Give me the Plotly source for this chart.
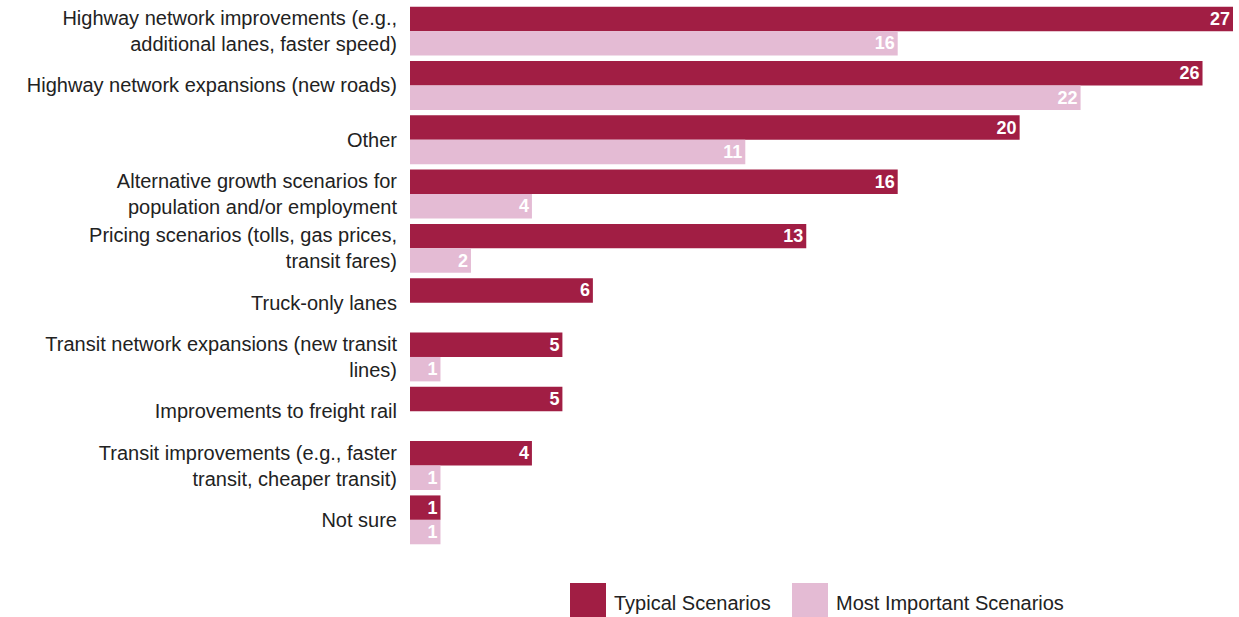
import plotly.graph_objects as go

categories = [
    "Highway network improvements (e.g.,<br>additional lanes, faster speed)",
    "Highway network expansions (new roads)",
    "Other",
    "Alternative growth scenarios for<br>population and/or employment",
    "Pricing scenarios (tolls, gas prices,<br>transit fares)",
    "Truck-only lanes",
    "Transit network expansions (new transit<br>lines)",
    "Improvements to freight rail",
    "Transit improvements (e.g., faster<br>transit, cheaper transit)",
    "Not sure",
]
typical = [27, 26, 20, 16, 13, 6, 5, 5, 4, 1]
important = [16, 22, 11, 4, 2, 0, 1, 0, 1, 1]
series_names = ["Typical Scenarios", "Most Important Scenarios"]
colors = ["#A11E44", "#E4BBD4"]

W, H = 1239, 617
ML, MR, MT, MB = 410, 6, 4, 70
PW, PH = W - ML - MR, H - MT - MB

def px(x):
    return (x - ML) / PW

def py(y):
    return (H - MB - y) / PH

fig = go.Figure()
for name, vals, col in zip(series_names, [typical, important], colors):
    fig.add_trace(go.Bar(
        y=categories, x=vals, orientation="h", name=name,
        marker=dict(color=col, line=dict(width=0)),
        text=[str(v) if v else "" for v in vals],
        textposition="inside", insidetextanchor="end", textangle=0,
        constraintext="none",
        textfont=dict(color="white", size=18, family="Liberation Sans"),
        texttemplate="<b>%{text}</b>",
        showlegend=False,
    ))

# legend drawn manually
legend_items = [(570, 606, 612), (792, 828, 834)]
for (x0, x1, tx), name, col in zip(legend_items, series_names, colors):
    fig.add_shape(type="rect", xref="paper", yref="paper",
                  x0=px(x0), x1=px(x1), y0=py(619), y1=py(583),
                  fillcolor=col, line=dict(width=0))
    fig.add_annotation(xref="paper", yref="paper", x=px(tx), y=py(603),
                       text=name, showarrow=False, xanchor="left", yanchor="middle",
                       font=dict(size=20, color="#222", family="Liberation Sans"))

fig.update_layout(
    width=W, height=H,
    margin=dict(l=ML, r=MR, t=MT, b=MB),
    barmode="group", bargap=0.1, bargroupgap=0,
    plot_bgcolor="white", paper_bgcolor="white",
    font=dict(family="Liberation Sans", size=20, color="#222"),
)
fig.update_xaxes(range=[0, 27], visible=False, showgrid=False)
fig.update_yaxes(autorange="reversed", showgrid=False, showline=False, ticks="",
                 ticklabelstandoff=12, tickfont=dict(size=20, color="#222"))

fig.write_html("out.html")
